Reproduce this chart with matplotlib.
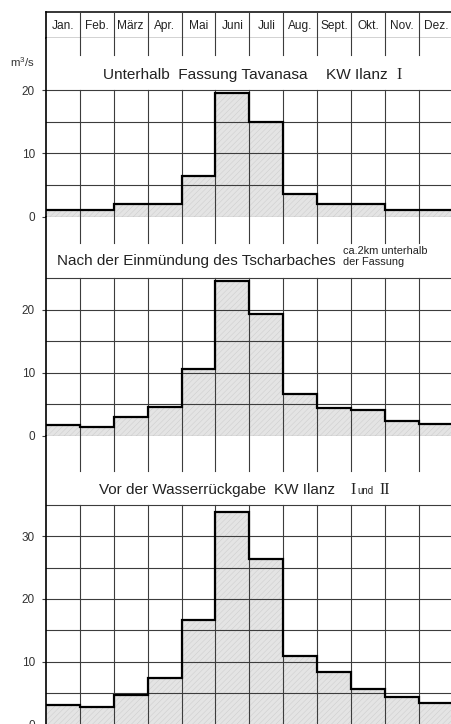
import numpy as np
import matplotlib
matplotlib.use('Agg')
import matplotlib.pyplot as plt

plt.rcParams['font.family'] = ['Liberation Sans', 'DejaVu Sans']
plt.rcParams['mathtext.fontset'] = 'custom'
plt.rcParams['mathtext.rm'] = 'Liberation Sans'
plt.rcParams['hatch.color'] = '#c8c8c8'
plt.rcParams['hatch.linewidth'] = 0.4

# monthly mean discharge (m3/s)
months = ['Jan.', 'Feb.', 'März', 'Apr.', 'Mai', 'Juni', 'Juli', 'Aug.', 'Sept.', 'Okt.', 'Nov.', 'Dez.']
q_tavanasa = [1.0, 1.0, 2.0, 2.0, 6.5, 19.5, 14.9, 3.6, 2.0, 2.0, 1.0, 1.0]
q_tscharbach = [1.75, 1.5, 3.0, 4.6, 10.6, 24.6, 19.3, 6.6, 4.4, 4.05, 2.3, 1.85]
q_rueckgabe = [3.1, 2.85, 4.65, 7.45, 16.6, 33.9, 26.3, 10.9, 8.4, 5.7, 4.4, 3.5]

W, H = 452, 724
X0 = 46.0      # left edge of the grid in pixels
COL = 33.9     # width of one month in pixels
gc = '#3c3c3c'
fill_c = '#e4e4e4'
txt_c = '#222222'

fig = plt.figure(figsize=(W / 100, H / 100), dpi=100)


def px_axes(top, bottom):
    return fig.add_axes([X0 / W, 1 - bottom / H, 12 * COL / W, (bottom - top) / H])


def px2x(px):
    return (px - X0) / COL


# header with month names
hx = px_axes(12, 38)
hx.set_xlim(0, 12)
hx.set_ylim(0, 1)
hx.axis('off')
hx.plot([0, 12], [1, 1], color='black', lw=1.1, clip_on=False)
hx.plot([0, 12], [0, 0], color='#222222', lw=1.0, clip_on=False)
hx.plot([0, 0], [0, 1], color='black', lw=1.2, clip_on=False)
for i in range(1, 13):
    hx.plot([i, i], [0, 1], color=gc, lw=0.8)
for i, m in enumerate(months):
    hx.text(i + 0.5, 0.48, m, ha='center', va='center', fontsize=8.6, color=txt_c)


def panel(top, bottom, scale, values, grid_top, tick_from, yticks):
    ax = px_axes(top, bottom)
    ymax = (bottom - top) / scale
    ax.set_xlim(0, 12)
    ax.set_ylim(0, ymax)
    edges = np.arange(13)
    ax.stairs(values, edges, baseline=0, fill=True, facecolor=fill_c, edgecolor='#cfcfcf',
              hatch='//////', lw=0, zorder=1)
    for y in np.arange(0, grid_top + 1, 5):
        ax.axhline(y, color=gc, lw=0.8, zorder=2, clip_on=False)
    for x in range(1, 13):
        ax.plot([x, x], [0, grid_top], color=gc, lw=0.8, zorder=2)
        ax.plot([x, x], [tick_from, ymax], color=gc, lw=0.8, zorder=2)
    ax.stairs(values, edges, baseline=None, color='black', lw=1.6, zorder=3)
    for s in ['top', 'right', 'bottom']:
        ax.spines[s].set_visible(False)
    ax.spines['left'].set_color('black')
    ax.spines['left'].set_linewidth(1.2)
    ax.set_xticks([])
    ax.set_yticks(yticks)
    ax.tick_params(axis='y', length=3, width=0.8, color=gc, labelsize=8.5, labelcolor='#333333', pad=5)
    return ax


ax1 = panel(38, 216.7, 6.33, q_tavanasa, 20, 25.5, [0, 10, 20])
ax2 = panel(216.7, 436, 6.32, q_tscharbach, 25, 30.5, [0, 10, 20])
ax3 = panel(436, 724.5, 6.28, q_rueckgabe, 35, 40.3, [0, 10, 20, 30])

fig.text(35 / W, 1 - 62 / H, r'm$^3$/s', ha='right', va='center', fontsize=8.2, color='#333333')

# titles of the three panels
y1 = (216.7 - 79) / 6.33
ax1.text(px2x(103), y1, 'Unterhalb  Fassung Tavanasa', ha='left', va='baseline', fontsize=11.1, color=txt_c)
ax1.text(px2x(326), y1, 'KW Ilanz', ha='left', va='baseline', fontsize=11.1, color=txt_c)
ax1.text(px2x(396), y1, 'I', ha='left', va='baseline', fontsize=11.5, color=txt_c,
         family='Liberation Serif')

y2 = (436 - 265) / 6.32
ax2.text(px2x(57), y2, 'Nach der Einmündung des Tscharbaches', ha='left', va='baseline',
         fontsize=11.0, color=txt_c)
ax2.text(px2x(343), (436 - 256.5) / 6.32, 'ca.2km unterhalb\nder Fassung', ha='left', va='center',
         fontsize=7.9, color=txt_c, linespacing=1.15)

y3 = (724.5 - 494) / 6.28
ax3.text(px2x(99), y3, 'Vor der Wasserrückgabe', ha='left', va='baseline', fontsize=11, color=txt_c)
ax3.text(px2x(274), y3, 'KW Ilanz', ha='left', va='baseline', fontsize=11, color=txt_c)
ax3.text(px2x(350), y3, 'I', ha='left', va='baseline', fontsize=11.5, color=txt_c,
         family='Liberation Serif')
ax3.text(px2x(357), y3, 'und', ha='left', va='baseline', fontsize=7, color=txt_c)
ax3.text(px2x(379), y3, 'II', ha='left', va='baseline', fontsize=11.5, color=txt_c,
         family='Liberation Serif')

fig.savefig('out.png', dpi=100)
